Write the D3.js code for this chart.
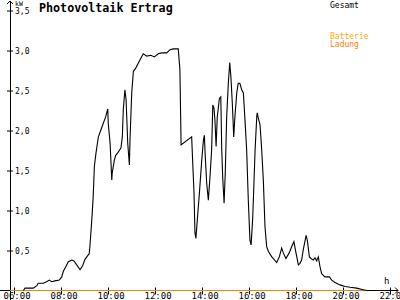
<!DOCTYPE html>
<html><head><meta charset="utf-8">
<script src="https://cdn.jsdelivr.net/npm/d3@7"></script>
<style>
html,body{margin:0;padding:0;background:#fff;}
svg{display:block;}
text{font-family:"DejaVu Sans Mono",monospace;}
</style></head>
<body>
<svg id="c" width="400" height="300"></svg>
<script>
// ---- data ----
const title = "Photovoltaik Ertrag";
const unitLabel = "kW";
const xUnit = "h";
const legendTop = ["Gesamt"];
const legendBattery = ["Batterie", "Ladung"];
const yTicks = [0.5, 1.0, 1.5, 2.0, 2.5, 3.0, 3.5];
const xTicks = [6, 8, 10, 12, 14, 16, 18, 20, 22];
// total yield: time (hours) and power (kW)
const hours = [6.40,6.47,6.82,6.97,7.03,7.25,7.39,7.50,7.60,7.74,7.93,8.03,8.10,8.21,8.31,8.46,8.55,8.67,8.81,8.92,
9.02,9.12,9.20,9.23,9.31,9.37,9.42,9.49,9.59,9.70,9.80,9.90,9.99,10.01,10.09,10.16,10.18,10.27,10.33,10.41,
10.55,10.61,10.65,10.72,10.77,10.84,10.91,10.94,11.01,11.08,11.18,11.32,11.50,11.65,11.83,11.97,12.14,12.29,12.50,12.64,
12.78,12.99,13.06,13.11,13.56,13.60,13.66,13.70,13.74,13.80,13.89,13.99,14.06,14.10,14.14,14.20,14.27,14.34,14.41,14.46,
14.51,14.55,14.60,14.65,14.74,14.80,14.84,14.88,14.94,14.99,15.05,15.12,15.18,15.23,15.29,15.35,15.40,15.48,15.54,15.61,
15.69,15.76,15.83,15.90,15.97,16.04,16.09,16.16,16.26,16.33,16.35,16.40,16.47,16.54,16.61,16.68,16.75,16.82,16.97,17.18,
17.29,17.39,17.46,17.57,17.71,17.82,17.91,18.00,18.10,18.17,18.24,18.31,18.43,18.48,18.57,18.64,18.74,18.81,18.88,18.95,
19.02,19.09,19.23,19.42,19.52,19.66,19.87,20.09,20.30,20.58,20.86,21.01];
const total = [0.00,0.03,0.03,0.06,0.09,0.09,0.11,0.13,0.11,0.12,0.13,0.17,0.24,0.30,0.36,0.38,0.37,0.32,0.26,0.31,
0.39,0.43,0.46,0.55,0.88,1.17,1.55,1.72,1.92,2.01,2.09,2.17,2.27,2.09,1.84,1.38,1.47,1.63,1.69,1.72,
1.78,1.92,2.26,2.51,2.38,1.84,1.57,1.92,2.47,2.74,2.78,2.86,2.96,2.93,2.94,2.92,2.96,2.97,2.97,3.01,
3.02,3.02,2.76,1.82,1.92,1.63,1.22,0.72,0.65,0.88,1.22,1.63,1.88,1.94,1.67,1.34,1.13,1.42,1.76,2.32,
2.28,2.13,1.80,2.17,2.40,2.42,1.76,1.42,1.09,1.47,2.17,2.59,2.85,2.67,2.34,1.92,2.17,2.47,2.59,2.59,
2.51,2.47,2.13,1.76,1.13,0.63,0.57,0.92,1.76,2.17,2.22,2.15,2.07,1.76,1.38,0.80,0.55,0.49,0.42,0.35,
0.42,0.53,0.47,0.40,0.47,0.55,0.61,0.47,0.32,0.34,0.38,0.51,0.69,0.63,0.42,0.40,0.38,0.41,0.37,0.42,
0.30,0.21,0.17,0.17,0.13,0.10,0.07,0.05,0.04,0.03,0.01,0.00];
// battery charge
const chargeHours = [5.83, 21.0];
const charge = [0, 0];

// ---- chart ----
const svg = d3.select("#c");
const x = d3.scaleLinear().domain([6, 22]).range([14, 390]);
const y = d3.scaleLinear().domain([0, 3.5]).range([290.5, 10.5]);
const axisX0 = 10;

// y axis
const yAxis = d3.axisRight(y).tickValues(yTicks).tickSize(0).tickPadding(5)
  .tickFormat(d => d3.format(".1f")(d).replace(".", ","));
const gy = svg.append("g").attr("transform", `translate(${axisX0},0)`).call(yAxis);
gy.select(".domain").remove();
gy.selectAll(".tick line").attr("x1", -3).attr("x2", 3).attr("stroke", "#000");
gy.selectAll(".tick text").attr("font-size", 8).attr("fill", "#000").attr("dy", "0.35em");

// x axis
const xAxis = d3.axisBottom(x).tickValues(xTicks).tickSize(0)
  .tickFormat(d => String(d).padStart(2, "0") + ":00");
const gx = svg.append("g").attr("transform", `translate(0,${y(0)})`).call(xAxis);
gx.select(".domain").remove();
gx.selectAll(".tick line").attr("y1", -3).attr("y2", 4).attr("stroke", "#000");
gx.selectAll(".tick text").attr("font-size", 9).attr("fill", "#000")
  .attr("text-anchor", "start").attr("x", -11).attr("y", 8).attr("dy", 0);

// axis lines with arrows
const y0 = y(0);
svg.append("line").attr("x1", axisX0).attr("x2", axisX0).attr("y1", 1).attr("y2", 300)
  .attr("stroke", "#000").attr("shape-rendering", "crispEdges");
svg.append("path").attr("d", `M${axisX0-3},4 L${axisX0},1 L${axisX0+3},4`).attr("fill", "none").attr("stroke", "#000");
svg.append("line").attr("x1", 0).attr("x2", 398).attr("y1", y0).attr("y2", y0)
  .attr("stroke", "#000").attr("shape-rendering", "crispEdges");
svg.append("path").attr("d", `M395,${y0-3} L398,${y0} L395,${y0+3}`).attr("fill", "none").attr("stroke", "#000");

// battery charge line
const line = d3.line().x((d, i) => x(d[0])).y(d => y(d[1]));
svg.append("path").datum(chargeHours.map((h, i) => [h, charge[i]]))
  .attr("d", line).attr("fill", "none").attr("stroke", "#ff8000").attr("stroke-width", 1.2);

// total line
svg.append("path").datum(hours.map((h, i) => [h, total[i]]))
  .attr("d", line).attr("fill", "none").attr("stroke", "#000").attr("stroke-width", 1.1);

// texts
svg.append("text").attr("x", 39).attr("y", 12).attr("font-size", 11.7).attr("font-weight", "bold")
  .attr("fill", "#000").text(title);
svg.append("text").attr("x", 15).attr("y", 5.5).attr("font-size", 6.5).attr("fill", "#000").text(unitLabel);
svg.append("text").attr("x", 384).attr("y", 284).attr("font-size", 9).attr("fill", "#000").text(xUnit);
svg.append("text").attr("x", 330).attr("y", 8).attr("font-size", 8).attr("fill", "#000").text(legendTop[0]);
svg.append("text").attr("x", 330).attr("y", 39).attr("font-size", 8).attr("fill", "#ffaa00").text(legendBattery[0]);
svg.append("text").attr("x", 330).attr("y", 47).attr("font-size", 8).attr("fill", "#ff8000").text(legendBattery[1]);
</script>
</body></html>
